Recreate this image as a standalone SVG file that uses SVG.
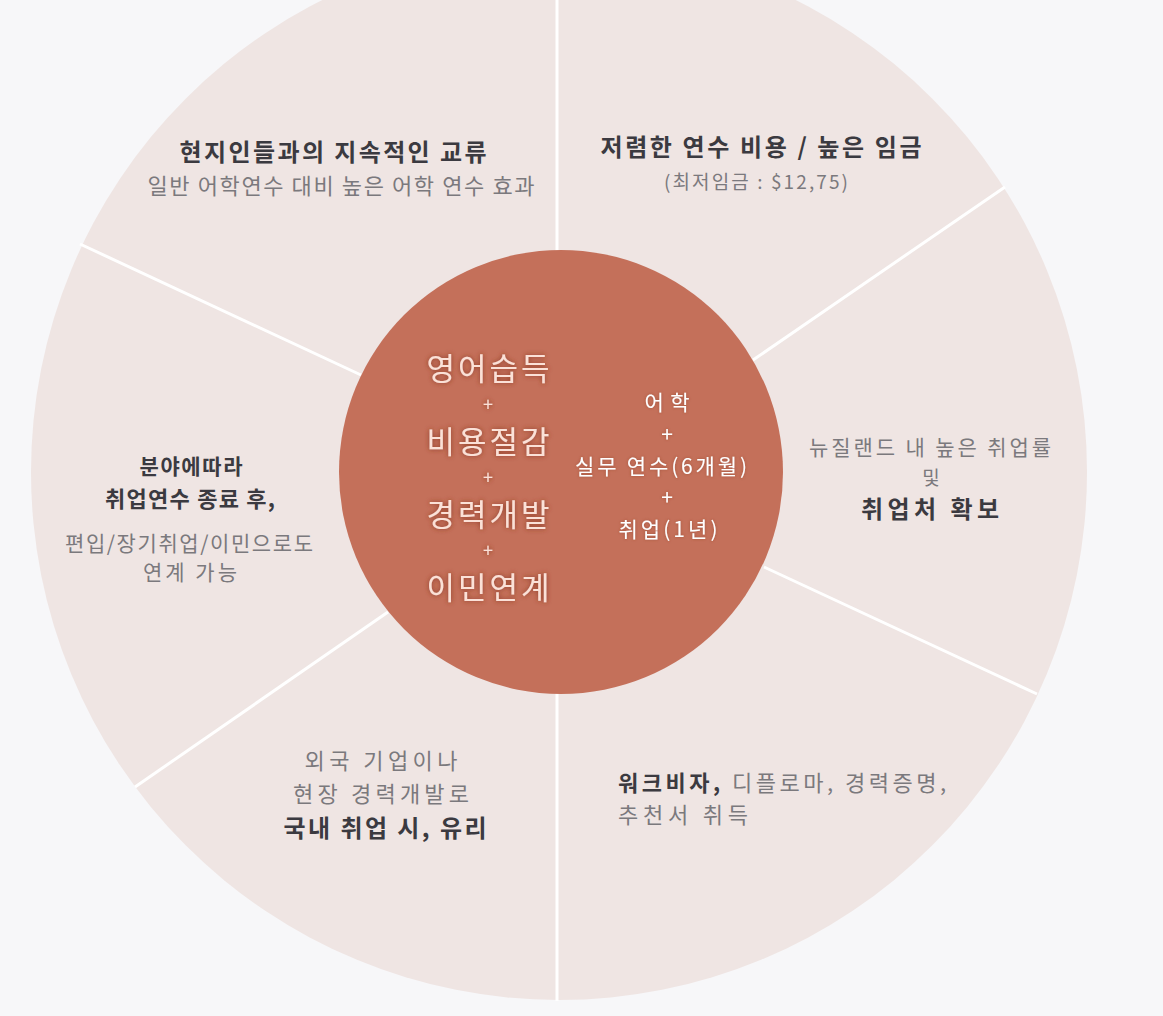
<svg xmlns="http://www.w3.org/2000/svg" width="1163" height="1016" viewBox="0 0 1163 1016">
<defs>
<style>
text{font-family:"Noto Sans CJK KR","Noto Sans",sans-serif;}
.b{font-size:24px;font-weight:700;fill:#3b3a40;text-anchor:middle;}
.g{font-size:22px;font-weight:400;fill:#7b797d;text-anchor:middle;}
.div{stroke:#ffffff;stroke-width:3;stroke-linecap:butt;}
.big{font-size:31px;font-weight:400;fill:#fbe1d7;text-anchor:middle;filter:url(#glow);}
.pl{font-size:18px;font-weight:400;fill:#fbe1d7;text-anchor:middle;filter:url(#glow);}
.w{font-size:21px;font-weight:400;fill:#ffffff;text-anchor:middle;filter:url(#glow2);}
</style>
<filter id="glow" x="-20%" y="-40%" width="140%" height="180%">
<feDropShadow dx="0" dy="0" stdDeviation="2.5" flood-color="#86301f" flood-opacity="0.95"/>
</filter>
<filter id="glow2" x="-20%" y="-40%" width="140%" height="180%">
<feDropShadow dx="0" dy="0" stdDeviation="1.5" flood-color="#8a3a28" flood-opacity="0.6"/>
</filter>
</defs>
<rect x="0" y="0" width="1163" height="1016" fill="#f7f7f9"/>
<circle id="ring" cx="559" cy="472" r="528" fill="#efe5e3"/>
<g id="connectors">
<line class="div" x1="557" y1="0" x2="557" y2="251"/>
<line class="div" x1="557" y1="693" x2="557" y2="1001"/>
<line class="div" x1="80" y1="244" x2="361" y2="375"/>
<line class="div" x1="753" y1="360" x2="1005" y2="187"/>
<line class="div" x1="135" y1="787" x2="388" y2="612"/>
<line class="div" x1="764" y1="567" x2="1037" y2="694"/>
</g>
<g id="sector-top-left">
<text class="b" x="333" y="161" textLength="307" lengthAdjust="spacing">현지인들과의 지속적인 교류</text>
<text class="g" x="341" y="194" textLength="387" lengthAdjust="spacing">일반 어학연수 대비 높은 어학 연수 효과</text>
</g>
<g id="sector-top-right">
<text class="b" x="761" y="156" textLength="321" lengthAdjust="spacing">저렴한 연수 비용 / 높은 임금</text>
<text class="g" x="756" y="189" textLength="184" lengthAdjust="spacing" style="font-size:19px">(최저임금 : $12,75)</text>
</g>
<g id="sector-right">
<text class="g" x="930" y="455" textLength="242" lengthAdjust="spacing" style="font-size:21px">뉴질랜드 내 높은 취업률</text>
<text class="g" x="931" y="485" style="font-size:19px">및</text>
<text class="b" x="930" y="518" textLength="138" lengthAdjust="spacing">취업처 확보</text>
</g>
<g id="sector-bottom-right">
<text x="618" y="791" textLength="328" lengthAdjust="spacing" style="font-size:22px"><tspan style="font-weight:700;fill:#3b3a40">워크비자,</tspan><tspan style="fill:#7b797d"> 디플로마, 경력증명,</tspan></text>
<text x="618" y="823" textLength="130" lengthAdjust="spacing" style="font-size:22px;fill:#7b797d">추천서 취득</text>
</g>
<g id="sector-bottom-left">
<text class="g" x="381" y="769" textLength="153" lengthAdjust="spacing">외국 기업이나</text>
<text class="g" x="381" y="802" textLength="176" lengthAdjust="spacing">현장 경력개발로</text>
<text class="b" x="385" y="837" textLength="203" lengthAdjust="spacing">국내 취업 시, 유리</text>
</g>
<g id="sector-left">
<text class="b" x="191" y="474" textLength="103" lengthAdjust="spacing" style="font-size:21px">분야에따라</text>
<text class="b" x="190" y="507" textLength="170" lengthAdjust="spacing" style="font-size:22px">취업연수 종료 후,</text>
<text class="g" x="189" y="551" textLength="248" lengthAdjust="spacing" style="font-size:21px">편입/장기취업/이민으로도</text>
<text class="g" x="190" y="580" textLength="94" lengthAdjust="spacing" style="font-size:21px">연계 가능</text>
</g>
<g id="center">
<circle cx="561" cy="472" r="222" fill="#c4705a"/>
<text class="big" x="488" y="380" textLength="123" lengthAdjust="spacing">영어습득</text>
<text class="pl" x="488" y="411">+</text>
<text class="big" x="488" y="453" textLength="123" lengthAdjust="spacing">비용절감</text>
<text class="pl" x="488" y="484">+</text>
<text class="big" x="488" y="526" textLength="123" lengthAdjust="spacing">경력개발</text>
<text class="pl" x="488" y="557">+</text>
<text class="big" x="488" y="599" textLength="123" lengthAdjust="spacing">이민연계</text>
<text class="w" x="667" y="410" textLength="45" lengthAdjust="spacing">어학</text>
<text class="w" x="667" y="442">+</text>
<text class="w" x="661" y="474" textLength="172" lengthAdjust="spacing">실무 연수(6개월)</text>
<text class="w" x="667" y="505">+</text>
<text class="w" x="668" y="537" textLength="99" lengthAdjust="spacing">취업(1년)</text>
</g>
</svg>
